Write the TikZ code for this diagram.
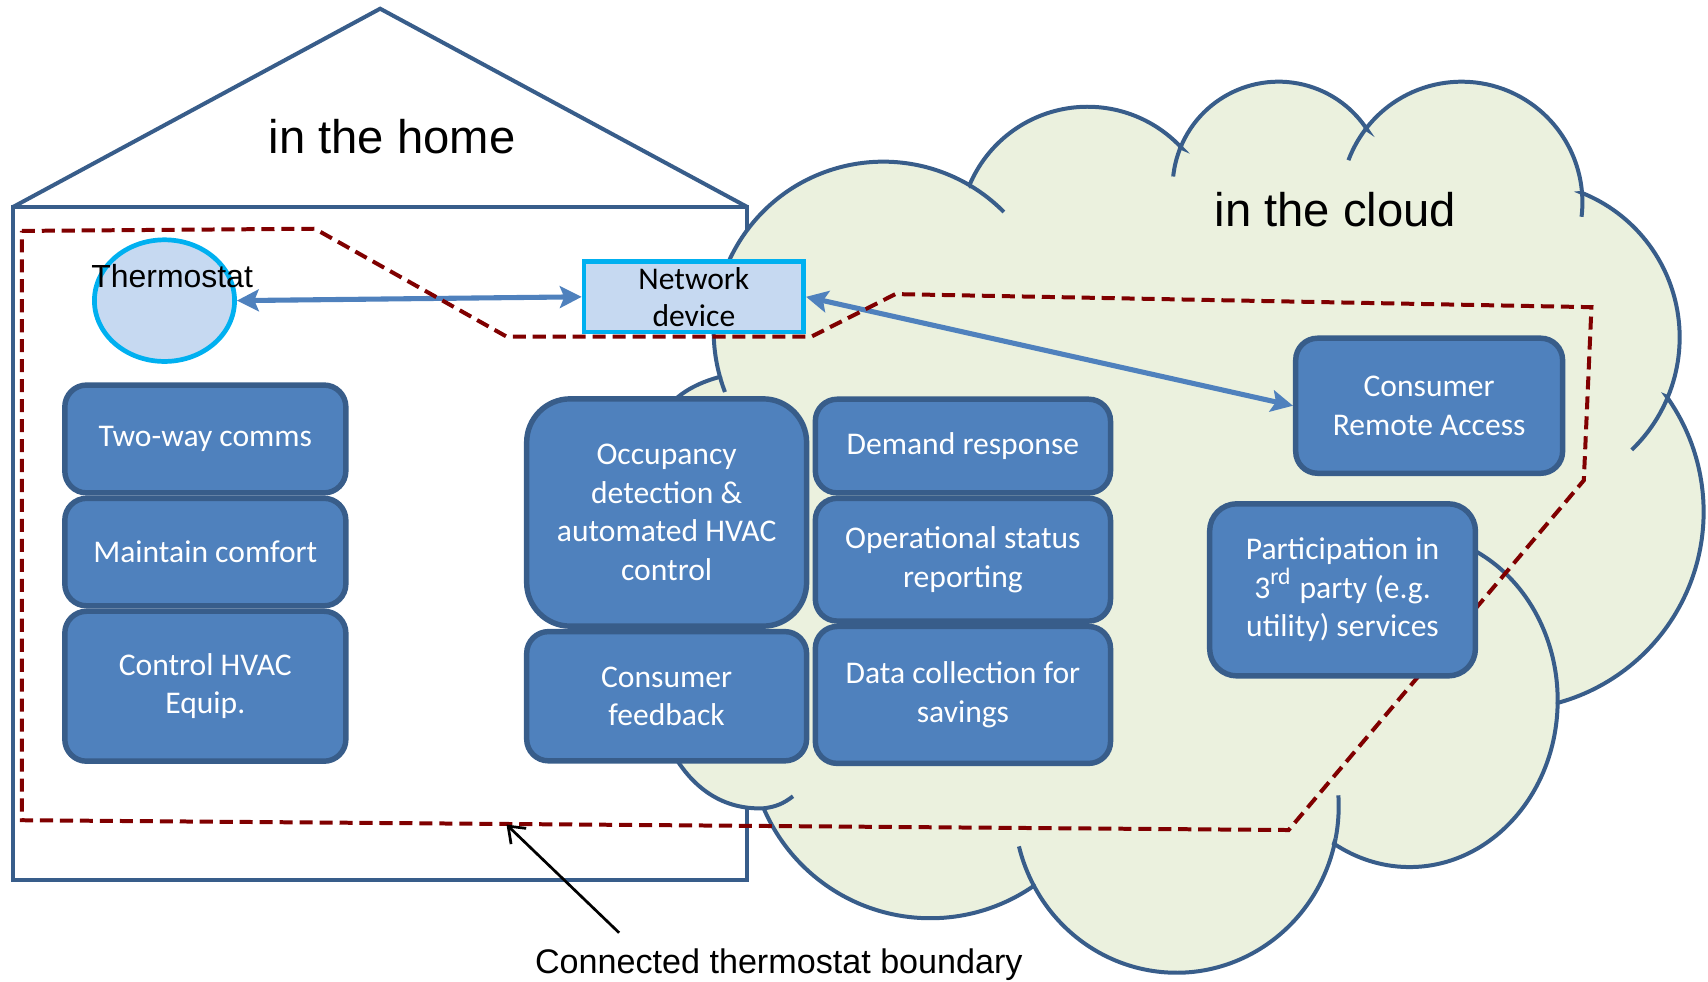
\documentclass[tikz,border=0pt]{standalone}
\usepackage{fontspec}
\usetikzlibrary{positioning, shapes.geometric, arrows.meta}
\newfontfamily\calibri{Carlito}
\newfontfamily\arial{Liberation Sans}

\definecolor{outline}{HTML}{385D8A}
\definecolor{boxblue}{HTML}{4F81BD}
\definecolor{lightblue}{HTML}{C6D9F1}
\definecolor{cyanline}{HTML}{00B0F0}
\definecolor{cloudfill}{HTML}{EBF1DE}
\definecolor{boundary}{HTML}{800000}

\tikzset{
    house/.style = {draw = outline, line width = 1.1pt},
    cloudshape/.style = {draw = outline, fill = cloudfill, line width = 1.1pt},
    bump/.style = {draw = outline, line width = 1.1pt},
    feature/.style = {draw = outline, fill = boxblue, line width = 1.5pt, rounded corners = 6pt, text = white, align = center, inner sep = 0pt, font = \calibri\fontsize{8.7}{10.6}\selectfont, minimum width = 77.4pt},
    device/.style = {draw = cyanline, fill = lightblue, line width = 1.3pt, align = center, inner sep = 0pt, font = \calibri\fontsize{8.7}{10.2}\selectfont},
    link/.style = {draw = boxblue, line width = 1.4pt, {Stealth[length = 6pt, width = 6pt, inset = 1.2pt]}-{Stealth[length = 6pt, width = 6pt, inset = 1.2pt]}},
    tstatline/.style = {draw = boundary, line width = 1.1pt, dash pattern = on 3.6pt off 1.9pt},
    heading/.style = {font = \arial\fontsize{13}{15}\selectfont},
}

\begin{document}
\begin{tikzpicture}[x = 0.3pt, y = 0.3pt]
    \useasboundingbox (0, 0) rectangle (1568, -901);
    \draw[house] (12, -190) -- (349, -8) -- (686, -190);
    \draw[house] (12, -190) rectangle (686, -808);
    \node[heading] (home) at (360, -125) {in the home};

    \coordinate (c1) at (810.9, -304.1);
    \coordinate (c2) at (998.4, -215.6);
    \coordinate (c3) at (1173.7, -172.2);
    \coordinate (c4) at (1341.8, -185.9);
    \coordinate (c5) at (1399, -309.8);
    \coordinate (c6) at (1382.2, -469.9);
    \coordinate (c7) at (1294, -643);
    \coordinate (c8) at (1080, -740);
    \coordinate (c9) at (854.1, -676.5);
    \path[cloudshape] ([shift = {(195.6:155.7)}]c1) arc[start angle = 195.6, end angle = 59.5, radius = 155.7]
        -- ([shift = {(157.2:117.6)}]c2) arc[start angle = 157.2, end angle = 42.6, radius = 117.6]
        -- ([shift = {(157.8:97.2)}]c3) arc[start angle = 157.8, end angle = 33.2, radius = 97.2]
        -- ([shift = {(142.4:110.9)}]c4) arc[start angle = 142.4, end angle = 4.6, radius = 110.9]
        -- ([shift = {(68.2:143)}]c5) arc[start angle = 68.2, end angle = -22.5, radius = 143]
        -- ([shift = {(35.6:181.8)}]c6) arc[start angle = 35.6, end angle = -74.4, radius = 181.8]
        -- ([shift = {(-1.1:136 and 153)}]c7) arc[start angle = -1.1, end angle = -120.7, x radius = 136, y radius = 153]
        -- ([shift = {(-11.3:149 and 153)}]c8) arc[start angle = -11.3, end angle = -151.4, x radius = 149, y radius = 153]
        -- ([shift = {(-55.7:166.5)}]c9) arc[start angle = -55.7, end angle = -156.8, radius = 166.5]
        .. controls (620, -745) and (585, -650) .. (585, -530)
        .. controls (585, -420) and (590, -365) .. ([shift = {(195.6:155.7)}]c1) -- cycle;
    \draw[bump] ([shift = {(59.5:155.7)}]c1) arc[start angle = 59.5, end angle = 44.7, radius = 155.7];
    \draw[bump] ([shift = {(195.6:155.7)}]c1) arc[start angle = 195.6, end angle = 201, radius = 155.7];
    \draw[bump] ([shift = {(174:97.2)}]c3) arc[start angle = 174, end angle = 157.8, radius = 97.2];
    \draw[bump] ([shift = {(159.5:110.9)}]c4) arc[start angle = 159.5, end angle = 142.4, radius = 110.9];
    \draw[bump] ([shift = {(4.6:110.9)}]c4) arc[start angle = 4.6, end angle = -6.8, radius = 110.9];
    \draw[bump] ([shift = {(-22.5:143)}]c5) arc[start angle = -22.5, end angle = -46.2, radius = 143];
    \draw[bump] ([shift = {(70:136 and 153)}]c7) arc[start angle = 70, end angle = -1.1, x radius = 136, y radius = 153];
    \draw[bump] ([shift = {(3.7:149 and 153)}]c8) arc[start angle = 3.7, end angle = -11.3, x radius = 149, y radius = 153];
    \draw[bump] ([shift = {(-151.4:149 and 153)}]c8) arc[start angle = -151.4, end angle = -166, x radius = 149, y radius = 153];
    \draw[bump] ([shift = {(-156.8:166.5)}]c9) to[bend right = 15] (728, -731);
    \node[heading] (cloud) at (1226, -192) {in the cloud};

    \node[ellipse, draw = cyanline, fill = lightblue, line width = 1.3pt, inner sep = 0pt, minimum width = 38.6pt, minimum height = 33.5pt] (thermo) at (151, -276) {};
    \node[font = \arial\fontsize{8.8}{10}\selectfont] (thermolabel) at (158, -253) {Thermostat};
    \node[device, minimum width = 60.5pt, minimum height = 19.4pt] (netdev) at (637, -272.5) {Network\\device};
    \node[feature, minimum width = 73.5pt, minimum height = 37.2pt] (remote) at (1312, -372.5) {Consumer\\Remote Access};
    \draw[link] (thermo.east) -- (netdev.west);
    \draw[link] (netdev.east) -- (remote.west);

    \draw[tstatline] (20, -212) -- (289, -210) -- (465, -309) -- (745, -309) -- (822, -270) -- (1461, -282) -- (1454, -441) -- (1183, -762) -- (20, -753) -- cycle;

    \node[feature, minimum height = 29.7pt] (twoway) at (188.5, -403) {Two-way comms};
    \node[feature, minimum height = 29.6pt, below = 0pt of twoway] (comfort) {Maintain comfort};
    \node[feature, minimum height = 41.3pt, below = 0pt of comfort] (hvac) {Control HVAC\\Equip.};
    \node[feature, minimum width = 77.1pt, minimum height = 62.6pt, rounded corners = 12pt] (occupancy) at (612, -470.5) {Occupancy\\detection \&\\automated HVAC\\control};
    \node[feature, minimum width = 77.1pt, minimum height = 35.6pt, below = 0pt of occupancy] (feedback) {Consumer\\feedback};
    \node[feature, minimum width = 81.3pt, minimum height = 25.8pt] (demand) at (884, -409.5) {Demand response};
    \node[feature, minimum width = 81.3pt, minimum height = 33.8pt, below = 0pt of demand] (status) {Operational status\\reporting};
    \node[feature, minimum width = 81.3pt, minimum height = 37.7pt, below = 0pt of status] (savings) {Data collection for\\savings};
    \node[feature, minimum width = 73.2pt, minimum height = 47.4pt, rounded corners = 7.5pt] (thirdparty) at (1232.5, -541.5) {Participation in\\3\textsuperscript{\fontsize{6.5}{7}\selectfont rd} party (e.g.\\utility) services};

    \node[font = \arial\fontsize{9.4}{11}\selectfont] (boundarylabel) at (715, -886) {Connected thermostat boundary};
    \coordinate (pointer) at (465, -757);
    \draw[-{Straight Barb[length = 4pt, width = 6pt]}, line width = 0.75pt] ([xshift = -44pt, yshift = 1pt]boundarylabel.north) -- (pointer);
\end{tikzpicture}
\end{document}
